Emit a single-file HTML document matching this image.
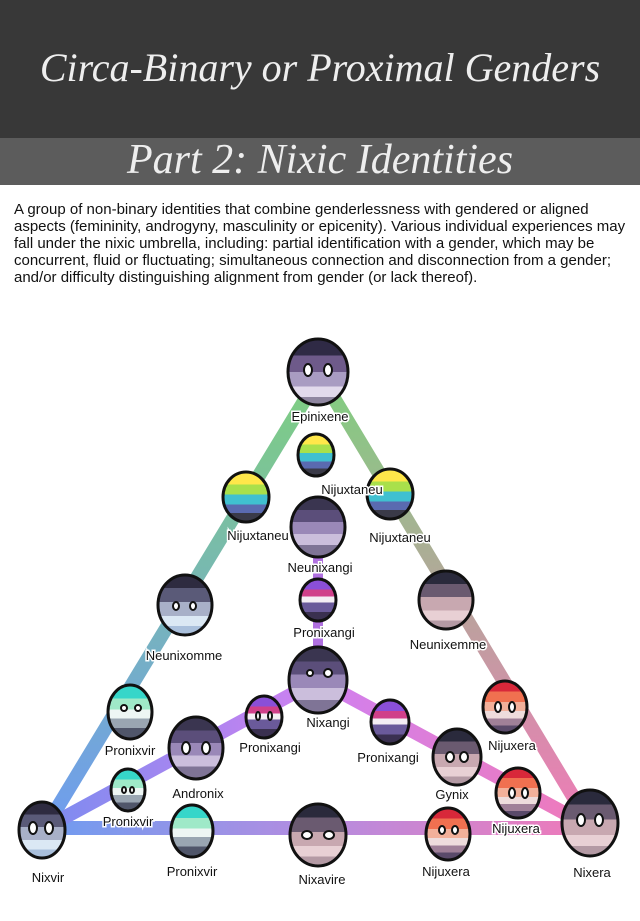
<!DOCTYPE html>
<html><head><meta charset="utf-8"><style>
body{margin:0;width:640px;height:921px;background:#fff;overflow:hidden;font-family:"Liberation Sans",sans-serif}
.h1{position:absolute;left:0;top:0;width:640px;height:138px;background:#383838}
.h2{position:absolute;left:0;top:138px;width:640px;height:47px;background:#5c5c5c}
.t{position:absolute;width:640px;text-align:center;color:#eee;font-family:"Liberation Serif",serif;font-style:italic;white-space:nowrap}
p{position:absolute;left:14px;top:201px;width:618px;margin:0;font-size:15px;line-height:17px;color:#111}
svg{position:absolute;left:0;top:0}
text{font-family:"Liberation Sans",sans-serif;font-size:13px;fill:#111;text-anchor:middle;paint-order:stroke;stroke:#fff;stroke-width:3px}
</style></head><body>
<div class="h1"></div><div class="h2"></div>
<div class="t" style="top:44px;font-size:40px">Circa-Binary or Proximal Genders</div>
<div class="t" style="top:136px;font-size:42px">Part 2: Nixic Identities</div>
<p>A group of non-binary identities that combine genderlessness with gendered or aligned aspects (femininity, androgyny, masculinity or epicenity). Various individual experiences may fall under the nixic umbrella, including: partial identification with a gender, which may be concurrent, fluid or fluctuating; simultaneous connection and disconnection from a gender; and/or difficulty distinguishing alignment from gender (or lack thereof).</p>
<svg width="640" height="921">
<defs>
<linearGradient id="gl" gradientUnits="userSpaceOnUse" x1="0" y1="375" x2="0" y2="828"><stop offset="0" stop-color="#7fcf7f"/><stop offset="1" stop-color="#6f9cf0"/></linearGradient>
<linearGradient id="gr" gradientUnits="userSpaceOnUse" x1="0" y1="375" x2="0" y2="828"><stop offset="0" stop-color="#7fcf7f"/><stop offset="1" stop-color="#f07ab8"/></linearGradient>
<linearGradient id="gb" gradientUnits="userSpaceOnUse" x1="45" y1="0" x2="592" y2="0"><stop offset="0" stop-color="#6f9cf0"/><stop offset=".5" stop-color="#b58ce0"/><stop offset="1" stop-color="#f07ab8"/></linearGradient>
<linearGradient id="gil" gradientUnits="userSpaceOnUse" x1="45" y1="0" x2="318" y2="0"><stop offset="0" stop-color="#7c8cf0"/><stop offset="1" stop-color="#d080f0"/></linearGradient>
<linearGradient id="gir" gradientUnits="userSpaceOnUse" x1="318" y1="0" x2="592" y2="0"><stop offset="0" stop-color="#d080f0"/><stop offset="1" stop-color="#f07ab8"/></linearGradient>
<linearGradient id="pu" x1="0" y1="0" x2="0" y2="1"><stop offset=".0" stop-color="#3a3550"/><stop offset=".22" stop-color="#3a3550"/><stop offset=".22" stop-color="#5b4e7a"/><stop offset=".42" stop-color="#5b4e7a"/><stop offset=".42" stop-color="#9a88b8"/><stop offset=".62" stop-color="#9a88b8"/><stop offset=".62" stop-color="#cbbedc"/><stop offset=".8" stop-color="#cbbedc"/><stop offset=".8" stop-color="#7f7496"/></linearGradient>
<linearGradient id="ep" x1="0" y1="0" x2="0" y2="1"><stop offset=".25" stop-color="#2f2a45"/><stop offset=".25" stop-color="#6e5a8a"/><stop offset=".5" stop-color="#6e5a8a"/><stop offset=".5" stop-color="#a99cc2"/><stop offset=".72" stop-color="#a99cc2"/><stop offset=".72" stop-color="#e2daec"/><stop offset=".88" stop-color="#e2daec"/><stop offset=".88" stop-color="#8f86a0"/></linearGradient>
<linearGradient id="rb" x1="0" y1="0" x2="0" y2="1"><stop offset=".25" stop-color="#ffe74a"/><stop offset=".25" stop-color="#a9e04b"/><stop offset=".45" stop-color="#a9e04b"/><stop offset=".45" stop-color="#40c0d0"/><stop offset=".65" stop-color="#40c0d0"/><stop offset=".65" stop-color="#5a6ab0"/><stop offset=".82" stop-color="#5a6ab0"/><stop offset=".82" stop-color="#3a3a48"/></linearGradient>
<linearGradient id="cy" x1="0" y1="0" x2="0" y2="1"><stop offset=".25" stop-color="#36d6c9"/><stop offset=".25" stop-color="#9fe9c8"/><stop offset=".45" stop-color="#9fe9c8"/><stop offset=".45" stop-color="#eef6f4"/><stop offset=".62" stop-color="#eef6f4"/><stop offset=".62" stop-color="#9aa6b2"/><stop offset=".8" stop-color="#9aa6b2"/><stop offset=".8" stop-color="#50566a"/></linearGradient>
<linearGradient id="rd" x1="0" y1="0" x2="0" y2="1"><stop offset=".2" stop-color="#d8283a"/><stop offset=".2" stop-color="#f07050"/><stop offset=".4" stop-color="#f07050"/><stop offset=".4" stop-color="#f2b09a"/><stop offset=".58" stop-color="#f2b09a"/><stop offset=".58" stop-color="#eedcdc"/><stop offset=".72" stop-color="#eedcdc"/><stop offset=".72" stop-color="#a08098"/><stop offset=".86" stop-color="#a08098"/><stop offset=".86" stop-color="#5a4a6a"/></linearGradient>
<linearGradient id="pk" x1="0" y1="0" x2="0" y2="1"><stop offset=".22" stop-color="#2a2a3c"/><stop offset=".22" stop-color="#6a5a70"/><stop offset=".45" stop-color="#6a5a70"/><stop offset=".45" stop-color="#c8a8b0"/><stop offset=".68" stop-color="#c8a8b0"/><stop offset=".68" stop-color="#e8d0d4"/><stop offset=".85" stop-color="#e8d0d4"/><stop offset=".85" stop-color="#b49aa4"/></linearGradient>
<linearGradient id="bl" x1="0" y1="0" x2="0" y2="1"><stop offset=".22" stop-color="#2e2b40"/><stop offset=".22" stop-color="#5a5a78"/><stop offset=".45" stop-color="#5a5a78"/><stop offset=".45" stop-color="#a8b0c8"/><stop offset=".68" stop-color="#a8b0c8"/><stop offset=".68" stop-color="#dbe8f4"/><stop offset=".85" stop-color="#dbe8f4"/><stop offset=".85" stop-color="#aac0dc"/></linearGradient>
<linearGradient id="pa" x1="0" y1="0" x2="0" y2="1"><stop offset=".25" stop-color="#8a4fd8"/><stop offset=".25" stop-color="#d0408a"/><stop offset=".42" stop-color="#d0408a"/><stop offset=".42" stop-color="#f4eef4"/><stop offset=".56" stop-color="#f4eef4"/><stop offset=".56" stop-color="#6a5a9a"/><stop offset=".78" stop-color="#6a5a9a"/><stop offset=".78" stop-color="#3a3050"/></linearGradient>
</defs>
<g stroke-linecap="round" fill="none" stroke-width="14">
<line x1="320" y1="375" x2="45" y2="828" stroke="url(#gl)"/>
<line x1="320" y1="375" x2="592" y2="828" stroke="url(#gr)"/>
<line x1="45" y1="828" x2="592" y2="828" stroke="url(#gb)"/>
<line x1="45" y1="828" x2="318" y2="680" stroke="url(#gil)"/>
<line x1="318" y1="680" x2="592" y2="828" stroke="url(#gir)"/>
<line x1="318" y1="530" x2="318" y2="680" stroke="#b070e0" stroke-width="10"/>
</g>
<g stroke="#111" stroke-width="3">
<ellipse cx="318" cy="372" rx="30" ry="33" fill="url(#ep)"/>
<ellipse cx="316" cy="455" rx="18" ry="21" fill="url(#rb)"/>
<ellipse cx="246" cy="497" rx="23" ry="25" fill="url(#rb)"/>
<ellipse cx="390" cy="494" rx="23" ry="25" fill="url(#rb)"/>
<ellipse cx="318" cy="527" rx="27" ry="30" fill="url(#pu)"/>
<ellipse cx="318" cy="600" rx="18" ry="21" fill="url(#pa)"/>
<ellipse cx="185" cy="605" rx="27" ry="30" fill="url(#bl)"/>
<ellipse cx="446" cy="600" rx="27" ry="29" fill="url(#pk)"/>
<ellipse cx="318" cy="680" rx="29" ry="33" fill="url(#pu)"/>
<ellipse cx="130" cy="712" rx="22" ry="27" fill="url(#cy)"/>
<ellipse cx="264" cy="717" rx="18" ry="21" fill="url(#pa)"/>
<ellipse cx="196" cy="748" rx="27" ry="31" fill="url(#pu)"/>
<ellipse cx="390" cy="722" rx="19" ry="22" fill="url(#pa)"/>
<ellipse cx="457" cy="757" rx="24" ry="28" fill="url(#pk)"/>
<ellipse cx="505" cy="707" rx="22" ry="26" fill="url(#rd)"/>
<ellipse cx="518" cy="793" rx="22" ry="25" fill="url(#rd)"/>
<ellipse cx="128" cy="790" rx="17" ry="21" fill="url(#cy)"/>
<ellipse cx="42" cy="830" rx="23" ry="28" fill="url(#bl)"/>
<ellipse cx="192" cy="831" rx="21" ry="26" fill="url(#cy)"/>
<ellipse cx="318" cy="835" rx="28" ry="31" fill="url(#pk)"/>
<ellipse cx="448" cy="834" rx="22" ry="26" fill="url(#rd)"/>
<ellipse cx="590" cy="823" rx="28" ry="33" fill="url(#pk)"/>
</g>
<g fill="#fff" stroke="#111" stroke-width="2">
<ellipse cx="308" cy="370" rx="4" ry="6"/><ellipse cx="328" cy="370" rx="4" ry="6"/>
<ellipse cx="186" cy="748" rx="4" ry="6"/><ellipse cx="206" cy="748" rx="4" ry="6"/>
<ellipse cx="450" cy="757" rx="4" ry="5"/><ellipse cx="464" cy="757" rx="4" ry="5"/>
<ellipse cx="33" cy="828" rx="4" ry="6"/><ellipse cx="49" cy="828" rx="4" ry="6"/>
<ellipse cx="581" cy="820" rx="4" ry="6"/><ellipse cx="599" cy="820" rx="4" ry="6"/>
<ellipse cx="310" cy="673" rx="3" ry="3"/><ellipse cx="328" cy="673" rx="4" ry="4"/>
<ellipse cx="307" cy="835" rx="5" ry="4"/><ellipse cx="329" cy="835" rx="5" ry="4"/>
<ellipse cx="498" cy="707" rx="3" ry="5"/><ellipse cx="512" cy="707" rx="3" ry="5"/>
<ellipse cx="512" cy="793" rx="3" ry="5"/><ellipse cx="525" cy="793" rx="3" ry="5"/>
<ellipse cx="442" cy="830" rx="3" ry="4"/><ellipse cx="455" cy="830" rx="3" ry="4"/>
<ellipse cx="258" cy="716" rx="2" ry="4"/><ellipse cx="270" cy="716" rx="2" ry="4"/>
<ellipse cx="124" cy="708" rx="3" ry="3"/><ellipse cx="138" cy="708" rx="3" ry="3"/>
<ellipse cx="124" cy="790" rx="2" ry="3"/><ellipse cx="132" cy="790" rx="2" ry="3"/>
<ellipse cx="176" cy="606" rx="3" ry="4"/><ellipse cx="193" cy="606" rx="3" ry="4"/>
</g>
<g>
<text x="320" y="421">Epinixene</text>
<text x="352" y="494">Nijuxtaneu</text>
<text x="258" y="540">Nijuxtaneu</text>
<text x="400" y="542">Nijuxtaneu</text>
<text x="320" y="572">Neunixangi</text>
<text x="324" y="637">Pronixangi</text>
<text x="184" y="660">Neunixomme</text>
<text x="448" y="649">Neunixemme</text>
<text x="328" y="727">Nixangi</text>
<text x="130" y="755">Pronixvir</text>
<text x="270" y="752">Pronixangi</text>
<text x="198" y="798">Andronix</text>
<text x="388" y="762">Pronixangi</text>
<text x="452" y="799">Gynix</text>
<text x="512" y="750">Nijuxera</text>
<text x="516" y="833">Nijuxera</text>
<text x="128" y="826">Pronixvir</text>
<text x="48" y="882">Nixvir</text>
<text x="192" y="876">Pronixvir</text>
<text x="322" y="884">Nixavire</text>
<text x="446" y="876">Nijuxera</text>
<text x="592" y="877">Nixera</text>
</g>
</svg>
</body></html>
